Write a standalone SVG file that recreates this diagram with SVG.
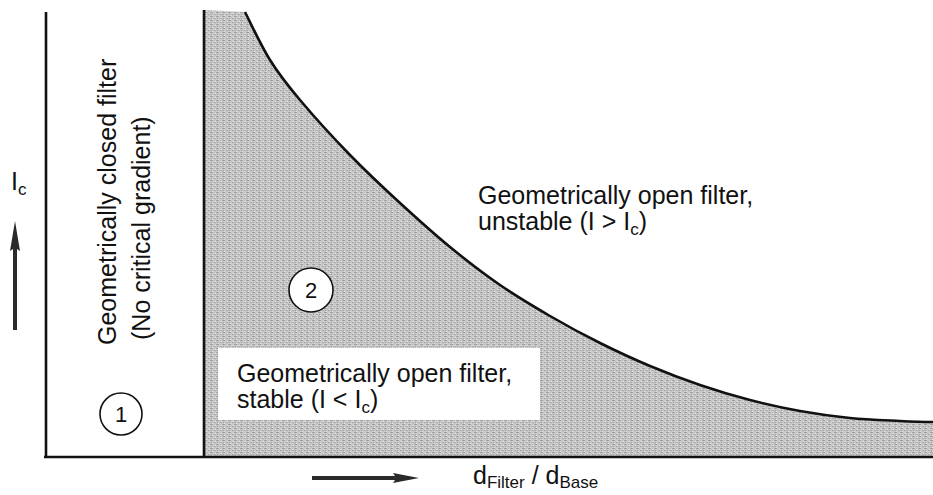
<svg xmlns="http://www.w3.org/2000/svg" width="933" height="495" viewBox="0 0 933 495">
<defs>
<style>
text{font-family:"Liberation Sans",Arial,sans-serif;fill:#111}
.lbl{font-size:25px}
.sub{font-size:17px}
.num{font-size:22px;text-anchor:middle}
.axis{stroke:#111;stroke-width:2.6;fill:none}
.circ{fill:#fff;stroke:#111;stroke-width:1.6}
</style>
<pattern id="stipple" width="6" height="4" patternUnits="userSpaceOnUse">
<rect width="6" height="4" fill="#c8c8c8"/>
<rect x="0" y="0" width="3" height="1" fill="#a2a2a2"/>
<rect x="4" y="2" width="2" height="1" fill="#acacac"/>
<rect x="2" y="3" width="1" height="1" fill="#e2e2e2"/>
<rect x="5" y="1" width="1" height="1" fill="#e6e6e6"/>
<rect x="1" y="2" width="1" height="1" fill="#9a9a9a"/>
</pattern>
</defs>
<rect width="933" height="495" fill="#fff"/>

<g id="region2-shade">
<path fill="url(#stipple)" d="M204,10 L245,12 C253,28 260.8,45.3 270,60 C279.2,74.7 286.7,84.2 300,100 C313.3,115.8 333.3,137.8 350,155 C366.7,172.2 383.3,187.7 400,203 C416.7,218.3 433.3,233.3 450,247 C466.7,260.7 483.3,273.5 500,285 C516.7,296.5 533.3,306.3 550,316 C566.7,325.7 583.3,334.7 600,343 C616.7,351.3 633.3,359 650,366 C666.7,373 683.3,379.3 700,385 C716.7,390.7 733.3,395.7 750,400 C766.7,404.3 783.3,408 800,411 C816.7,414 833.3,416.3 850,418 C866.7,419.7 885.8,420.3 900,421 C914.2,421.7 929,422 935,422 L935,457 L204,457 Z"/>
</g>

<g id="axes">
<line class="axis" x1="46" y1="12" x2="46" y2="458"/>
<line class="axis" x1="44" y1="457" x2="933" y2="457"/>
<line class="axis" x1="204" y1="10" x2="204" y2="457"/>
<path class="axis" d="M245,12 C253,28 260.8,45.3 270,60 C279.2,74.7 286.7,84.2 300,100 C313.3,115.8 333.3,137.8 350,155 C366.7,172.2 383.3,187.7 400,203 C416.7,218.3 433.3,233.3 450,247 C466.7,260.7 483.3,273.5 500,285 C516.7,296.5 533.3,306.3 550,316 C566.7,325.7 583.3,334.7 600,343 C616.7,351.3 633.3,359 650,366 C666.7,373 683.3,379.3 700,385 C716.7,390.7 733.3,395.7 750,400 C766.7,404.3 783.3,408 800,411 C816.7,414 833.3,416.3 850,418 C866.7,419.7 885.8,420.3 900,421 C914.2,421.7 929,422 935,422"/>
</g>

<g id="region1">
<text class="lbl" transform="translate(116,345) rotate(-90)">Geometrically closed filter</text>
<text class="lbl" transform="translate(150,340) rotate(-90)">(No critical gradient)</text>
<circle class="circ" cx="121" cy="414" r="21"/>
<text class="num" x="121" y="422">1</text>
</g>

<g id="region2">
<circle class="circ" cx="311" cy="290" r="22"/>
<text class="num" x="311" y="298">2</text>
<rect x="218" y="348" width="322" height="72" fill="#fff"/>
<text class="lbl" x="237" y="382">Geometrically open filter,</text>
<text class="lbl" x="237" y="408">stable (I &lt; I<tspan class="sub" dy="5">c</tspan><tspan dy="-5">)</tspan></text>
</g>

<g id="region3">
<text class="lbl" x="478" y="204">Geometrically open filter,</text>
<text class="lbl" x="478" y="230">unstable (I &gt; I<tspan class="sub" dy="5">c</tspan><tspan dy="-5">)</tspan></text>
</g>

<g id="axis-labels">
<text class="lbl" x="11" y="190">I<tspan class="sub" dy="5">c</tspan></text>
<text class="lbl" x="473" y="484">d<tspan class="sub" dy="4">Filter</tspan><tspan dy="-4"> / d</tspan><tspan class="sub" dy="4">Base</tspan></text>
</g>

<g id="connectors">
<path fill="#2a2a2a" d="M15,221 L20,251 L17,249 L17,330 L13,330 L13,249 L10,251 Z"/>
<path fill="#2a2a2a" d="M419,478 L393,483 L395,480 L312,480 L312,476 L395,476 L393,473 Z"/>
</g>
</svg>
